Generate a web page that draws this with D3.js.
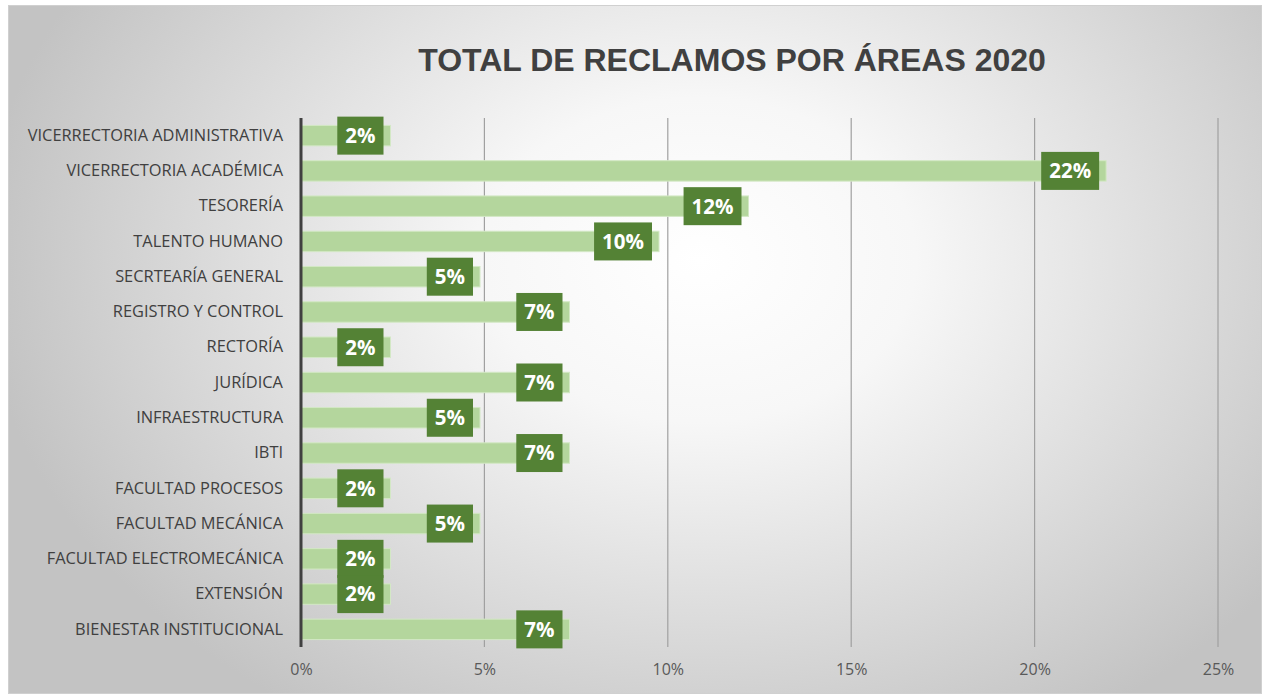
<!DOCTYPE html>
<html>
<head>
<meta charset="utf-8">
<script src="https://cdn.jsdelivr.net/npm/d3@7"></script>
<style>
  body { margin: 0; background: #fff; }
  svg { display: block; }
</style>
</head>
<body>
<div id="chart"></div>
<script>
// data (percent of total reclamos per area)
const areas = [
  "VICERRECTORIA ADMINISTRATIVA",
  "VICERRECTORIA ACADÉMICA",
  "TESORERÍA",
  "TALENTO HUMANO",
  "SECRTEARÍA GENERAL",
  "REGISTRO Y CONTROL",
  "RECTORÍA",
  "JURÍDICA",
  "INFRAESTRUCTURA",
  "IBTI",
  "FACULTAD PROCESOS",
  "FACULTAD MECÁNICA",
  "FACULTAD ELECTROMECÁNICA",
  "EXTENSIÓN",
  "BIENESTAR INSTITUCIONAL"
];
const percents = [2.44, 21.95, 12.2, 9.76, 4.88, 7.32, 2.44, 7.32, 4.88, 7.32, 2.44, 4.88, 2.44, 2.44, 7.32];
const xTicks = [0, 5, 10, 15, 20, 25];
const title = "TOTAL DE RECLAMOS POR ÁREAS 2020";

const W = 1262, H = 694;
const plot = { left: 301, right: 1218, top: 118, bottom: 647 };

const svg = d3.select("#chart").append("svg")
  .attr("width", W)
  .attr("height", H);

const defs = svg.append("defs");
const grad = defs.append("radialGradient")
  .attr("id", "bg")
  .attr("gradientUnits", "userSpaceOnUse")
  .attr("cx", 700).attr("cy", 260).attr("r", 720)
  .attr("gradientTransform", "translate(700,260) scale(1,0.75) translate(-700,-260)");
grad.append("stop").attr("offset", "0%").attr("stop-color", "#ffffff");
grad.append("stop").attr("offset", "30%").attr("stop-color", "#f7f7f7");
grad.append("stop").attr("offset", "100%").attr("stop-color", "#c3c3c3");

svg.append("rect")
  .attr("x", 8.5).attr("y", 5.5)
  .attr("width", W - 9).attr("height", H - 6)
  .attr("fill", "url(#bg)")
  .attr("stroke", "#d0d0d0");

svg.append("text")
  .attr("x", 732).attr("y", 71)
  .attr("text-anchor", "middle")
  .attr("font-family", "'Liberation Sans', Arial, sans-serif")
  .attr("font-weight", "bold")
  .attr("font-size", 32)
  .attr("fill", "#404040")
  .text(title);

const x = d3.scaleLinear().domain([0, 25]).range([plot.left, plot.right]);
const y = d3.scaleBand().domain(areas).range([plot.top, plot.bottom]).paddingInner(0.42).paddingOuter(0.21);

// grid
svg.append("g").selectAll("line")
  .data(xTicks.slice(1))
  .join("line")
  .attr("x1", d => x(d)).attr("x2", d => x(d))
  .attr("y1", plot.top).attr("y2", plot.bottom)
  .attr("stroke", "#a0a0a0")
  .attr("stroke-width", 1.2);

// x axis tick labels
const xAxis = svg.append("g")
  .attr("transform", `translate(0,${plot.bottom})`)
  .call(d3.axisBottom(x).tickValues(xTicks).tickSize(0).tickPadding(17).tickFormat(d => d + "%"));
xAxis.select(".domain").remove();
xAxis.selectAll("text")
  .attr("font-family", "'Open Sans', sans-serif")
  .attr("font-size", 16)
  .attr("fill", "#595959");

// y axis labels
const yAxis = svg.append("g")
  .attr("transform", `translate(${plot.left},0)`)
  .call(d3.axisLeft(y).tickSize(0).tickPadding(18));
yAxis.select(".domain").remove();
yAxis.selectAll("text")
  .attr("font-family", "'Open Sans', sans-serif")
  .attr("font-size", 16.4)
  .attr("fill", "#404040");

// bars
svg.append("g").selectAll("rect")
  .data(areas)
  .join("rect")
  .attr("x", x(0))
  .attr("y", d => y(d))
  .attr("width", (d, i) => x(percents[i]) - x(0))
  .attr("height", y.bandwidth())
  .attr("fill", "#b4d69d")
  .attr("stroke", "#d3e8c5")
  .attr("stroke-width", 1);

// vertical axis line
svg.append("line")
  .attr("x1", x(0)).attr("x2", x(0))
  .attr("y1", plot.top).attr("y2", plot.bottom)
  .attr("stroke", "#404040")
  .attr("stroke-width", 3);

// data labels
const labels = svg.append("g").selectAll("g")
  .data(areas)
  .join("g")
  .attr("transform", (d, i) => `translate(${x(percents[i]) - 7},${y(d) + y.bandwidth() / 2})`);

labels.append("text")
  .attr("text-anchor", "middle")
  .attr("dy", "0.36em")
  .attr("font-family", "'Open Sans', sans-serif")
  .attr("font-weight", "bold")
  .attr("font-size", 20.5)
  .attr("fill", "#ffffff")
  .text((d, i) => Math.round(percents[i]) + "%");

labels.each(function () {
  const g = d3.select(this);
  const t = g.select("text");
  const w = t.node().getComputedTextLength() + 16;
  t.attr("x", -w / 2);
  g.insert("rect", "text")
    .attr("x", -w).attr("y", -19)
    .attr("width", w).attr("height", 38)
    .attr("fill", "#548235");
});
</script>
</body>
</html>
